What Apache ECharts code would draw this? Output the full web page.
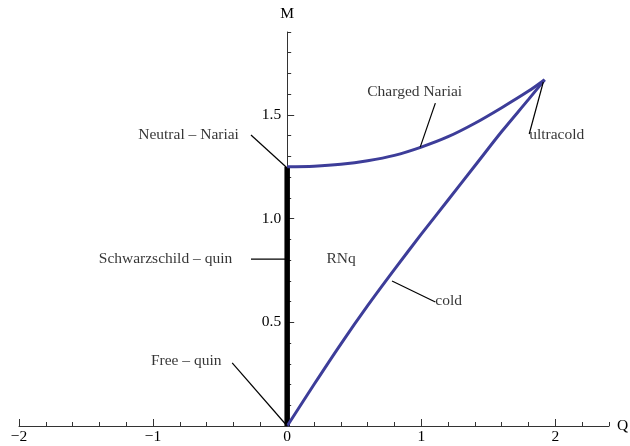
<!DOCTYPE html>
<html>
<head>
<meta charset="utf-8">
<script src="https://cdn.jsdelivr.net/npm/echarts@6/dist/echarts.min.js"></script>
<style>html,body{margin:0;padding:0;background:#fff}#c{width:630px;height:446px}</style>
</head>
<body>
<div id="c"></div>
<script>
// Data (Q, M)
var chargedQ = [0, 0.2, 0.4, 0.6, 0.8, 1.0, 1.2, 1.4, 1.6, 1.8, 1.92];
var chargedM = [1.25, 1.253, 1.262, 1.279, 1.305, 1.345, 1.395, 1.46, 1.535, 1.615, 1.67];
var coldQ = [0, 0.2, 0.4, 0.6, 0.8, 1.0, 1.2, 1.4, 1.6, 1.8, 1.92];
var coldM = [0, 0.2, 0.395, 0.58, 0.755, 0.925, 1.09, 1.255, 1.42, 1.575, 1.67];
var neutralQ = [0, 0];
var neutralM = [0, 1.25];
var xMajorTicks = [-2, -1, 0, 1, 2];
var yMajorTicks = [0.5, 1.0, 1.5];

// Callouts: pointer segments [[Q1,M1],[Q2,M2]] and label anchors
var pointers = [
  [[-0.27, 1.403], [-0.008, 1.249]],
  [[-0.27, 0.805], [0, 0.805]],
  [[-0.41, 0.304], [0, 0]],
  [[1.105, 1.557], [0.992, 1.345]],
  [[1.91, 1.659], [1.805, 1.408]],
  [[0.782, 0.699], [1.105, 0.598]]
];
var labelTexts = ['Neutral – Nariai', 'Schwarzschild – quin', 'Free – quin', 'Charged Nariai', 'ultracold', 'cold', 'RNq'];
var labelQ = [-0.36, -0.41, -0.49, 0.951, 1.805, 1.105, 0.293];
var labelM = [1.403, 0.805, 0.313, 1.61, 1.403, 0.603, 0.805];
var labelPos = ['left', 'left', 'left', 'inside', 'right', 'right', 'right'];

function zip(a, b) { return a.map(function (v, i) { return [v, b[i]]; }); }

var font = 'Liberation Serif';
var axisColor = '#333';
var fs = 15.5;
var gridLeft = 19, gridRight = 21;
var xMin = -2, xMax = 2.4;
var plotW = 630 - gridLeft - gridRight;
var zeroPx = gridLeft + (0 - xMin) / (xMax - xMin) * plotW;

var series = [
  { type: 'line', data: zip(neutralQ, neutralM), symbol: 'none', lineStyle: { color: '#000', width: 5.5 }, z: 3 },
  { type: 'line', data: zip(chargedQ, chargedM), smooth: 0.3, symbol: 'none', lineStyle: { color: '#3d3d99', width: 3 }, z: 4 },
  { type: 'line', data: zip(coldQ, coldM), smooth: 0.3, symbol: 'none', lineStyle: { color: '#3d3d99', width: 3 }, z: 4 }
];
pointers.forEach(function (p) {
  series.push({ type: 'line', data: p, symbol: 'none', lineStyle: { color: '#000', width: 1.2 }, z: 5, silent: true });
});
series.push({
  type: 'scatter', symbolSize: 0, z: 6,
  data: labelTexts.map(function (t, i) {
    return {
      value: [labelQ[i], labelM[i]],
      label: { show: true, formatter: t, position: labelPos[i], distance: 0, color: '#000', fontFamily: font, fontSize: fs }
    };
  })
});

var chart = echarts.init(document.getElementById('c'));
chart.setOption({
  animation: false,
  grid: { left: gridLeft, right: gridRight, top: 32, bottom: 20, containLabel: false, outerBoundsMode: 'none' },
  xAxis: [
    { type: 'value', min: xMin, max: xMax, interval: 0.2,
      axisLine: { onZero: true, lineStyle: { color: axisColor, width: 1 } },
      axisTick: { inside: true, length: 4, lineStyle: { color: axisColor } },
      axisLabel: { show: false }, splitLine: { show: false },
      name: 'Q', nameLocation: 'end', nameGap: 8, nameTextStyle: { color: '#000', fontFamily: font, fontSize: fs } },
    { type: 'value', min: xMin, max: xMax, interval: 1, position: 'bottom',
      axisLine: { show: false, onZero: false },
      axisTick: { inside: true, length: 7, customValues: xMajorTicks, lineStyle: { color: axisColor } },
      axisLabel: { customValues: xMajorTicks, margin: 3, color: '#000', fontFamily: font, fontSize: fs,
        formatter: function (v) { return v < 0 ? '\u2212' + Math.abs(v) : String(v); } },
      splitLine: { show: false } }
  ],
  yAxis: [
    { type: 'value', min: 0, max: 1.9, interval: 0.1, position: 'left',
      axisLine: { onZero: true, lineStyle: { color: axisColor, width: 1 } },
      axisTick: { inside: true, length: 4, lineStyle: { color: axisColor } },
      axisLabel: { show: false }, splitLine: { show: false },
      name: 'M', nameLocation: 'end', nameGap: 10, nameTextStyle: { color: '#000', fontFamily: font, fontSize: fs } },
    { type: 'value', min: 0, max: 1.9, interval: 0.5, position: 'left', offset: gridLeft - zeroPx,
      axisLine: { show: false, onZero: false },
      axisTick: { inside: true, length: 7, customValues: yMajorTicks, lineStyle: { color: axisColor } },
      axisLabel: { customValues: yMajorTicks, margin: 6, color: '#000', fontFamily: font, fontSize: fs,
        formatter: function (v) { return v.toFixed(1); } },
      splitLine: { show: false } }
  ],
  series: series
});
</script>
</body>
</html>
